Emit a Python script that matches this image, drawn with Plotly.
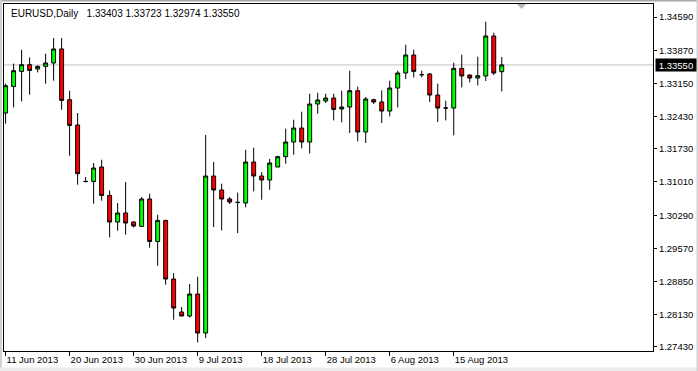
import plotly.graph_objects as go

# ---------------- data ----------------
dates = [
    "2013-06-11", "2013-06-12", "2013-06-13", "2013-06-14", "2013-06-16", "2013-06-17", "2013-06-18",
    "2013-06-19", "2013-06-20", "2013-06-21", "2013-06-23", "2013-06-24", "2013-06-25", "2013-06-26",
    "2013-06-27", "2013-06-28", "2013-06-30", "2013-07-01", "2013-07-02", "2013-07-03", "2013-07-04",
    "2013-07-05", "2013-07-07", "2013-07-08", "2013-07-09", "2013-07-10", "2013-07-11", "2013-07-12",
    "2013-07-14", "2013-07-15", "2013-07-16", "2013-07-17", "2013-07-18", "2013-07-19", "2013-07-21",
    "2013-07-22", "2013-07-23", "2013-07-24", "2013-07-25", "2013-07-26", "2013-07-28", "2013-07-29",
    "2013-07-30", "2013-07-31", "2013-08-01", "2013-08-02", "2013-08-04", "2013-08-05", "2013-08-06",
    "2013-08-07", "2013-08-08", "2013-08-09", "2013-08-11", "2013-08-12", "2013-08-13", "2013-08-14",
    "2013-08-15", "2013-08-16", "2013-08-18", "2013-08-19", "2013-08-20", "2013-08-21", "2013-08-22",
]

open_ = [1.32507, 1.33084, 1.33410, 1.33555, 1.33462, 1.33518, 1.33592, 1.33896, 1.32795, 1.32246,
         1.31022, 1.31022, 1.31335, 1.30719, 1.30142, 1.30337, 1.30142, 1.30046, 1.30641, 1.29720,
         1.30176, 1.28905, 1.28189, 1.28102, 1.28579, 1.27733, 1.31140, 1.30836, 1.30641, 1.30567,
         1.30554, 1.31444, 1.31140, 1.31053, 1.31335, 1.31559, 1.31878, 1.32181, 1.31878, 1.32702,
         1.32767, 1.32832, 1.32594, 1.32637, 1.32991, 1.32095, 1.32795, 1.32746, 1.32550, 1.33049,
         1.33375, 1.33765, 1.33338, 1.33353, 1.32897, 1.32615, 1.32615, 1.33475, 1.33331, 1.33266,
         1.33310, 1.34178, 1.33403]

high = [1.33143, 1.33577, 1.33880, 1.33713, 1.33540, 1.33794, 1.34134, 1.34134, 1.32991, 1.32507,
        1.31118, 1.31422, 1.31493, 1.30827, 1.30554, 1.31010, 1.30154, 1.30684, 1.30756, 1.30300,
        1.30190, 1.29035, 1.28297, 1.28796, 1.28955, 1.32029, 1.31444, 1.30973, 1.30684, 1.30777,
        1.31710, 1.31754, 1.31226, 1.31509, 1.31580, 1.32166, 1.32361, 1.32535, 1.32926, 1.32947,
        1.32926, 1.32926, 1.32991, 1.33425, 1.33078, 1.32854, 1.32817, 1.32997, 1.33208, 1.33425,
        1.33989, 1.33880, 1.33425, 1.33375, 1.33143, 1.32774, 1.33598, 1.33772, 1.33344, 1.33729,
        1.34488, 1.34249, 1.33723]

low = [1.32275, 1.32628, 1.32759, 1.32904, 1.33388, 1.33143, 1.33208, 1.32578, 1.31580, 1.30951,
       1.31001, 1.30539, 1.30604, 1.29807, 1.29953, 1.29866, 1.30024, 1.30039, 1.29584, 1.29193,
       1.28781, 1.28021, 1.28102, 1.28071, 1.27529, 1.27624, 1.30033, 1.29959, 1.30532, 1.29903,
       1.30458, 1.30806, 1.30625, 1.30842, 1.31335, 1.31407, 1.31602, 1.31739, 1.31630, 1.32492,
       1.32724, 1.32346, 1.32303, 1.32073, 1.31891, 1.31856, 1.32702, 1.32290, 1.32433, 1.32628,
       1.33245, 1.33279, 1.33279, 1.32746, 1.32312, 1.32346, 1.32021, 1.33062, 1.33171, 1.33106,
       1.33201, 1.33331, 1.32974]

close = [1.33099, 1.33425, 1.33555, 1.33431, 1.33518, 1.33592, 1.33896, 1.32780, 1.32238, 1.31190,
         1.31022, 1.31313, 1.30719, 1.30142, 1.30337, 1.30120, 1.30055, 1.30641, 1.29720, 1.30176,
         1.28905, 1.28275, 1.28102, 1.28579, 1.27733, 1.31140, 1.30836, 1.30641, 1.30576, 1.30567,
         1.31444, 1.31140, 1.31053, 1.31422, 1.31559, 1.31878, 1.32181, 1.31878, 1.32702, 1.32789,
         1.32832, 1.32585, 1.32637, 1.32991, 1.32095, 1.32811, 1.32746, 1.32550, 1.33049, 1.33375,
         1.33765, 1.33410, 1.33338, 1.32897, 1.32615, 1.32615, 1.33475, 1.33310, 1.33266, 1.33316,
         1.34178, 1.33375, 1.33550]

x_tick_dates = ["2013-06-11", "2013-06-20", "2013-06-30", "2013-07-09",
                "2013-07-18", "2013-07-28", "2013-08-06", "2013-08-15"]
x_tick_labels = ["11 Jun 2013", "20 Jun 2013", "30 Jun 2013", "9 Jul 2013",
                 "18 Jul 2013", "28 Jul 2013", "6 Aug 2013", "15 Aug 2013"]
y_ticks = [1.34590, 1.33870, 1.33150, 1.32430, 1.31730, 1.31010,
           1.30290, 1.29570, 1.28850, 1.28130, 1.27430]

symbol = "EURUSD"
timeframe = "Daily"

# ---------------- figure ----------------
W, H = 698, 371
ML, MR, MT, MB = 4, 45, 4, 20
PW, PH = W - ML - MR, H - MT - MB
FONT = "Liberation Sans, Arial, sans-serif"


def px_x(px):
    return (px - ML) / PW


def px_y(py):
    return 1 - (py - MT) / PH


fig = go.Figure()
fig.add_trace(go.Candlestick(
    x=dates, open=open_, high=high, low=low, close=close,
    increasing=dict(fillcolor="#00FF00", line=dict(color="#000000", width=1)),
    decreasing=dict(fillcolor="#FF0000", line=dict(color="#000000", width=1)),
    whiskerwidth=0,
    hoverinfo="x+y",
    showlegend=False,
))

last_close = close[-1]
title_text = (f"{symbol},{timeframe}\u00a0\u00a0\u00a0{open_[-1]:.5f} {high[-1]:.5f} "
              f"{low[-1]:.5f} {close[-1]:.5f}")

frame_col = "#D0D0D0"
shapes = [
    dict(type="line", xref="paper", yref="y", x0=0, x1=1, y0=last_close, y1=last_close,
         line=dict(color="#C0C0C0", width=1), layer="below"),
    # chart-shift marker
    dict(type="path", xref="paper", yref="paper",
         path=f"M {px_x(517)} {px_y(4)} L {px_x(526)} {px_y(4)} L {px_x(521.5)} {px_y(9)} Z",
         fillcolor="#B4B4B4", line=dict(width=0)),
    # window frame
    dict(type="rect", xref="paper", yref="paper", x0=px_x(0), x1=px_x(698), y0=px_y(0), y1=px_y(1.5),
         fillcolor="#A8A8A8", line=dict(width=0)),
    dict(type="rect", xref="paper", yref="paper", x0=px_x(0), x1=px_x(2), y0=px_y(0), y1=px_y(371),
         fillcolor=frame_col, line=dict(width=0)),
    dict(type="rect", xref="paper", yref="paper", x0=px_x(0), x1=px_x(698), y0=px_y(367.5), y1=px_y(371),
         fillcolor="#ECECEC", line=dict(width=0)),
    dict(type="rect", xref="paper", yref="paper", x0=px_x(696.5), x1=px_x(698), y0=px_y(0), y1=px_y(371),
         fillcolor=frame_col, line=dict(width=0)),
]

fig.update_layout(
    width=W, height=H,
    margin=dict(l=ML, r=MR, t=MT, b=MB, pad=0),
    paper_bgcolor="#FFFFFF",
    plot_bgcolor="#FFFFFF",
    font=dict(family=FONT, size=9.5, color="#000000"),
    showlegend=False,
    xaxis=dict(
        type="category",
        range=[-0.2, 80.9],
        rangeslider=dict(visible=False),
        tickmode="array", tickvals=x_tick_dates, ticktext=x_tick_labels,
        ticks="outside", ticklen=4, tickcolor="#000000", tickwidth=1,
        ticklabelposition="outside right",
        showgrid=False, zeroline=False,
        showline=True, linecolor="#000000", linewidth=1, mirror=True,
        tickfont=dict(family=FONT, size=9.5, color="#000000"),
        fixedrange=True,
    ),
    yaxis=dict(
        side="right",
        range=[1.27343, 1.34872],
        tickmode="array", tickvals=y_ticks, ticktext=[f"{v:.5f}" for v in y_ticks],
        ticks="outside", ticklen=3, tickcolor="#000000", tickwidth=1,
        showgrid=False, zeroline=False,
        showline=True, linecolor="#000000", linewidth=1, mirror=True,
        tickfont=dict(family=FONT, size=9.5, color="#000000"),
        fixedrange=True,
    ),
    shapes=shapes,
    annotations=[
        dict(text=title_text, xref="paper", yref="paper",
             x=px_x(9), y=px_y(13),
             xanchor="left", yanchor="middle", showarrow=False,
             font=dict(family=FONT, size=10, color="#000000")),
        dict(text=f"{last_close:.5f}", xref="paper", yref="y",
             x=1, y=last_close, xanchor="left", yanchor="middle", xshift=2,
             showarrow=False, bgcolor="#000000", borderpad=1, width=38, height=10,
             font=dict(family=FONT, size=9.5, color="#FFFFFF")),
    ],
)

fig.write_html("out.html")
